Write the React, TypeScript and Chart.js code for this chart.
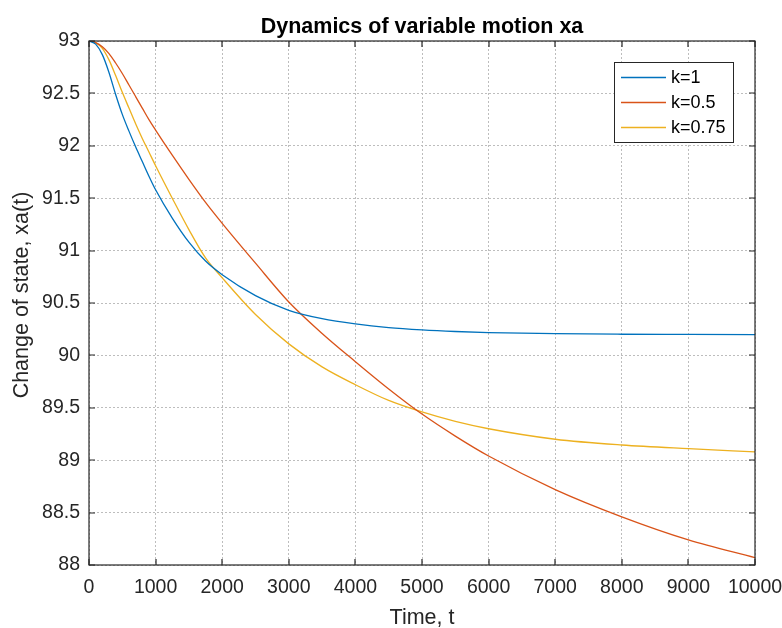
import React, { useEffect, useRef } from "react";
import { Chart, registerables } from "chart.js";

Chart.register(...registerables);

// ---- data ----
const TIME = [
  0, 100, 200, 300, 400, 500, 600, 700, 800, 900, 1000, 1250, 1500, 1750, 2000,
  2500, 3000, 3500, 4000, 4500, 5000, 5500, 6000, 7000, 8000, 9000, 10000,
];
const XA_K1 = [
  93, 92.97, 92.87, 92.7, 92.49, 92.3, 92.14, 91.99, 91.85, 91.71, 91.58, 91.31,
  91.08, 90.9, 90.77, 90.57, 90.43, 90.35, 90.3, 90.265, 90.243, 90.228, 90.218,
  90.207, 90.202, 90.2, 90.198,
];
const XA_K05 = [
  93, 92.985, 92.945, 92.88, 92.79, 92.69, 92.58, 92.47, 92.36, 92.25, 92.15,
  91.91, 91.68, 91.46, 91.26, 90.88, 90.51, 90.21, 89.94, 89.68, 89.44, 89.23,
  89.04, 88.72, 88.46, 88.24, 88.07,
];
const XA_K075 = [
  93, 92.985, 92.93, 92.82, 92.67, 92.51, 92.36, 92.21, 92.07, 91.94, 91.81,
  91.5, 91.2, 90.93, 90.74, 90.39, 90.11, 89.89, 89.72, 89.57, 89.46, 89.37,
  89.3, 89.2, 89.145, 89.11, 89.08,
];
const SERIES_LABELS = ["k=1", "k=0.5", "k=0.75"];
const SERIES_COLORS = ["#0072BD", "#D95319", "#EDB120"];
const X_MIN = 0;
const X_MAX = 10000;
const X_STEP = 1000;
const Y_MIN = 88;
const Y_MAX = 93;
const Y_STEP = 0.5;
const TITLE = "Dynamics of variable motion xa";
const X_LABEL = "Time, t";
const Y_LABEL = "Change of state, xa(t)";

const FONT = '"Liberation Sans", Arial, Helvetica, sans-serif';
const AXIS_COLOR = "#262626";

const framePlugin = {
  id: "matlabFrame",
  afterDraw(chart: any) {
    const { ctx, chartArea: a, scales } = chart;
    const cx = (a.left + a.right) / 2;
    const cy = (a.top + a.bottom) / 2;
    ctx.save();

    // box
    ctx.strokeStyle = AXIS_COLOR;
    ctx.lineWidth = 1.2;
    ctx.strokeRect(a.left, a.top, a.right - a.left, a.bottom - a.top);

    // inward tick marks on all four sides
    const TL = 6;
    ctx.beginPath();
    for (const t of scales.x.ticks) {
      const px = Math.round(scales.x.getPixelForValue(t.value));
      ctx.moveTo(px, a.bottom);
      ctx.lineTo(px, a.bottom - TL);
      ctx.moveTo(px, a.top);
      ctx.lineTo(px, a.top + TL);
    }
    for (const t of scales.y.ticks) {
      const py = Math.round(scales.y.getPixelForValue(t.value));
      ctx.moveTo(a.left, py);
      ctx.lineTo(a.left + TL, py);
      ctx.moveTo(a.right, py);
      ctx.lineTo(a.right - TL, py);
    }
    ctx.stroke();

    // title
    ctx.fillStyle = "#000";
    ctx.font = `bold 21.5px ${FONT}`;
    ctx.textAlign = "center";
    ctx.textBaseline = "alphabetic";
    ctx.fillText(TITLE, cx, 33);

    // axis labels
    ctx.fillStyle = AXIS_COLOR;
    ctx.font = `21.5px ${FONT}`;
    ctx.fillText(X_LABEL, cx, 624);
    ctx.save();
    ctx.translate(28, cy - 8);
    ctx.rotate(-Math.PI / 2);
    ctx.fillText(Y_LABEL, 0, 0);
    ctx.restore();

    // legend
    const lx = 614.5, ly = 62.5, lw = 119, lh = 80;
    ctx.fillStyle = "#fff";
    ctx.fillRect(lx, ly, lw, lh);
    ctx.strokeStyle = AXIS_COLOR;
    ctx.lineWidth = 1;
    ctx.strokeRect(lx, ly, lw, lh);
    ctx.font = `18px ${FONT}`;
    ctx.textAlign = "left";
    ctx.textBaseline = "middle";
    chart.data.datasets.forEach((ds: any, i: number) => {
      const y = 77.5 + i * 25;
      ctx.strokeStyle = ds.borderColor;
      ctx.lineWidth = 1.3;
      ctx.beginPath();
      ctx.moveTo(621, y);
      ctx.lineTo(666, y);
      ctx.stroke();
      ctx.fillStyle = "#000";
      ctx.fillText(ds.label, 671, y + 1);
    });
    ctx.restore();
  },
};

export default function App() {
  const canvasRef = useRef<HTMLCanvasElement | null>(null);

  useEffect(() => {
    const canvas = canvasRef.current;
    if (!canvas) return;
    const seriesValues = [XA_K1, XA_K05, XA_K075];
    const chart = new Chart(canvas, {
      type: "line",
      data: {
        datasets: seriesValues.map((vals, i) => ({
          label: SERIES_LABELS[i],
          data: TIME.map((t, j) => ({ x: t, y: vals[j] })),
          borderColor: SERIES_COLORS[i],
          backgroundColor: SERIES_COLORS[i],
          borderWidth: 1.3,
          pointRadius: 0,
          cubicInterpolationMode: "monotone" as const,
          fill: false,
        })),
      },
      options: {
        responsive: false,
        animation: false,
        devicePixelRatio: 1,
        layout: { padding: { top: 41, right: 27, left: 0, bottom: 0 } },
        plugins: {
          legend: { display: false },
          title: { display: false },
          tooltip: { enabled: false },
        },
        scales: {
          x: {
            type: "linear",
            min: X_MIN,
            max: X_MAX,
            afterFit: (s: any) => {
              s.height = 63;
              s.paddingLeft = 0;
              s.paddingRight = 0;
            },
            ticks: {
              stepSize: X_STEP,
              color: AXIS_COLOR,
              font: { family: FONT, size: 19.5 },
              padding: 11,
              maxRotation: 0,
              autoSkip: false,
              callback: (v: any) => String(v),
            },
            grid: { color: "#bdbdbd", lineWidth: 1, drawTicks: false },
            border: { display: false, dash: [2, 2] },
          },
          y: {
            type: "linear",
            min: Y_MIN,
            max: Y_MAX,
            afterFit: (s: any) => {
              s.width = 89;
              s.paddingTop = 0;
              s.paddingBottom = 0;
            },
            ticks: {
              stepSize: Y_STEP,
              color: AXIS_COLOR,
              font: { family: FONT, size: 19.5 },
              padding: 9,
              autoSkip: false,
              callback: (v: any) => String(v),
            },
            grid: { color: "#bdbdbd", lineWidth: 1, drawTicks: false },
            border: { display: false, dash: [2, 2] },
          },
        },
      },
      plugins: [framePlugin],
    });
    return () => chart.destroy();
  }, []);

  return (
    <div style={{ position: "absolute", left: 0, top: 0, width: 782, height: 628, background: "#fff" }}>
      <canvas ref={canvasRef} width={782} height={628} style={{ display: "block", width: 782, height: 628 }} />
    </div>
  );
}
